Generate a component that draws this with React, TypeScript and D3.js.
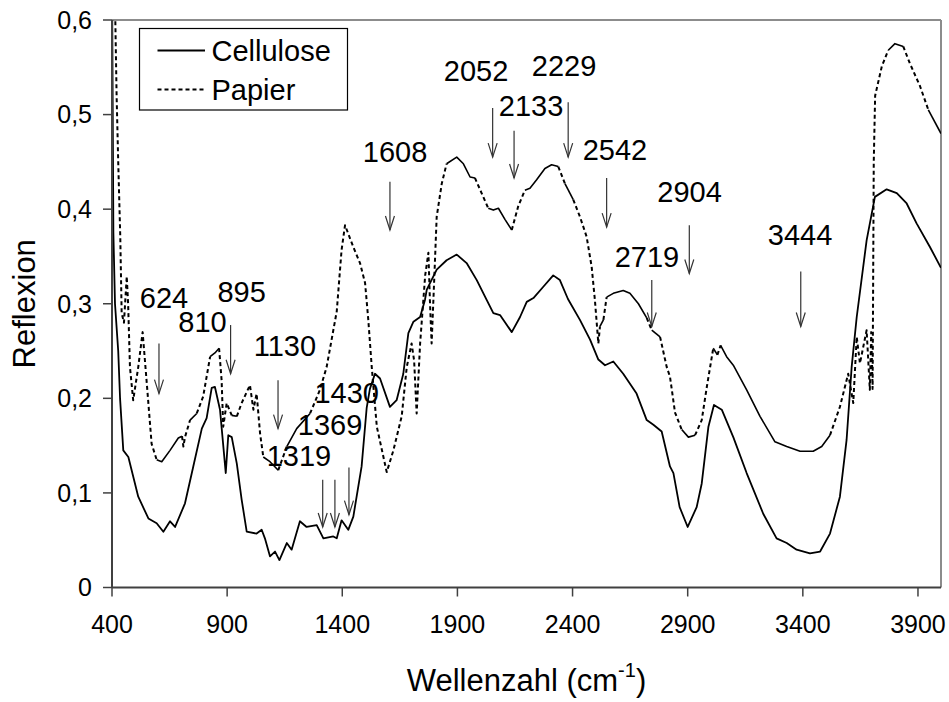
import * as d3 from "d3";

// Reflexion spectra: [wavenumber cm-1, reflexion]
const cellulose: [number, number][] = [
  [400, 0.65], [406, 0.375], [413, 0.3], [427, 0.25], [435, 0.2], [449, 0.145], [471, 0.138],
  [514, 0.096], [558, 0.073], [594, 0.068], [623, 0.059], [652, 0.07], [674, 0.064], [717, 0.089],
  [753, 0.128], [790, 0.168], [811, 0.179], [833, 0.211], [847, 0.212], [869, 0.188], [894, 0.121],
  [905, 0.161], [920, 0.159], [942, 0.131], [963, 0.093], [985, 0.059], [1028, 0.057], [1050, 0.061],
  [1064, 0.052], [1086, 0.033], [1108, 0.038], [1127, 0.029], [1159, 0.047], [1180, 0.04], [1216, 0.07],
  [1245, 0.064], [1289, 0.066], [1318, 0.052], [1361, 0.054], [1376, 0.052], [1397, 0.071], [1426, 0.061],
  [1448, 0.075], [1484, 0.128], [1506, 0.19], [1520, 0.21], [1542, 0.226], [1564, 0.221], [1607, 0.191],
  [1636, 0.198], [1665, 0.226], [1687, 0.269], [1709, 0.281], [1738, 0.286], [1759, 0.304], [1767, 0.315],
  [1810, 0.336], [1853, 0.346], [1897, 0.352], [1940, 0.343], [1984, 0.325], [2027, 0.304], [2056, 0.29],
  [2085, 0.288], [2136, 0.27], [2172, 0.286], [2201, 0.302], [2230, 0.306], [2273, 0.318], [2316, 0.33],
  [2345, 0.325], [2380, 0.305], [2432, 0.283], [2476, 0.262], [2512, 0.241], [2541, 0.235], [2577, 0.239],
  [2620, 0.226], [2678, 0.205], [2722, 0.177], [2751, 0.172], [2787, 0.165], [2823, 0.128], [2838, 0.121],
  [2865, 0.085], [2900, 0.064], [2939, 0.085], [2961, 0.11], [2990, 0.17], [3014, 0.193], [3048, 0.188],
  [3098, 0.159], [3156, 0.121], [3228, 0.078], [3286, 0.052], [3330, 0.047], [3373, 0.04], [3431, 0.036],
  [3475, 0.038], [3518, 0.057], [3561, 0.096], [3590, 0.156], [3612, 0.233], [3634, 0.286], [3677, 0.367],
  [3713, 0.413], [3764, 0.421], [3808, 0.417], [3851, 0.406], [3894, 0.385], [3952, 0.36], [4000, 0.338],
];

const papier: [number, number][] = [
  [405, 0.68], [413, 0.62], [420, 0.52], [427, 0.45], [436, 0.37], [442, 0.29], [452, 0.28], [464, 0.329],
  [470, 0.3], [478, 0.233], [492, 0.198], [514, 0.233], [533, 0.27], [551, 0.216], [572, 0.152], [594, 0.135],
  [616, 0.133], [652, 0.145], [688, 0.158], [704, 0.16], [710, 0.149], [717, 0.159], [739, 0.177], [768, 0.184],
  [796, 0.202], [826, 0.244], [847, 0.248], [865, 0.253], [876, 0.219], [883, 0.17], [898, 0.195], [920, 0.182],
  [942, 0.181], [963, 0.195], [999, 0.214], [1014, 0.188], [1028, 0.205], [1043, 0.163], [1057, 0.138],
  [1086, 0.133], [1122, 0.124], [1159, 0.149], [1202, 0.168], [1260, 0.184], [1303, 0.209], [1332, 0.233],
  [1376, 0.292], [1397, 0.357], [1412, 0.383], [1448, 0.36], [1477, 0.343], [1499, 0.322], [1513, 0.283],
  [1528, 0.233], [1550, 0.17], [1593, 0.122], [1622, 0.145], [1658, 0.181], [1680, 0.233], [1701, 0.258],
  [1712, 0.24], [1723, 0.184], [1738, 0.258], [1760, 0.33], [1774, 0.354], [1781, 0.3], [1788, 0.258],
  [1800, 0.33], [1810, 0.392], [1832, 0.427], [1853, 0.448], [1897, 0.455], [1926, 0.448], [1955, 0.434],
  [1976, 0.433], [2005, 0.417], [2034, 0.401], [2056, 0.399], [2078, 0.401], [2107, 0.389], [2136, 0.378],
  [2164, 0.403], [2193, 0.42], [2215, 0.422], [2244, 0.431], [2280, 0.443], [2309, 0.447], [2338, 0.445],
  [2367, 0.427], [2403, 0.41], [2432, 0.392], [2461, 0.371], [2483, 0.339], [2497, 0.304], [2512, 0.258],
  [2519, 0.276], [2534, 0.283], [2548, 0.307], [2577, 0.311], [2620, 0.314], [2649, 0.311], [2686, 0.3],
  [2722, 0.285], [2744, 0.272], [2780, 0.265], [2809, 0.233], [2823, 0.223], [2845, 0.185], [2874, 0.167],
  [2903, 0.159], [2932, 0.161], [2961, 0.177], [2983, 0.212], [3011, 0.253], [3029, 0.246], [3043, 0.256],
  [3069, 0.244], [3098, 0.235], [3156, 0.209], [3214, 0.181], [3279, 0.154], [3330, 0.149], [3388, 0.144],
  [3445, 0.144], [3482, 0.149], [3518, 0.161], [3561, 0.191], [3597, 0.226], [3619, 0.195], [3634, 0.265],
  [3648, 0.237], [3677, 0.272], [3691, 0.209], [3697, 0.27], [3703, 0.21], [3708, 0.45], [3714, 0.52],
  [3743, 0.551], [3771, 0.568], [3800, 0.575], [3836, 0.572], [3865, 0.554], [3909, 0.53], [3945, 0.505],
  [4000, 0.48],
];

const xTicks = [400, 900, 1400, 1900, 2400, 2900, 3400, 3900];
const yTicks = [0, 0.1, 0.2, 0.3, 0.4, 0.5, 0.6];

// band labels: text, [wavenumber, reflexion] of the label baseline centre
const bandLabels = ["624", "810", "895", "1130", "1319", "1369", "1430", "1608", "2052", "2133", "2229", "2542", "2719", "2904", "3444"];
const bandLabelAt: [number, number][] = [
  [626, 0.2955], [793, 0.27], [963, 0.302], [1151, 0.245], [1212, 0.128], [1347, 0.161], [1419, 0.195],
  [1629, 0.45], [1981, 0.535], [2220, 0.498], [2363, 0.541], [2584, 0.452], [2723, 0.339], [2908, 0.408],
  [3388, 0.362],
];
// arrows: [wavenumber, start reflexion, tip reflexion]
const bandArrows: [number, number, number][] = [
  [604, 0.258, 0.205], [915, 0.2775, 0.226], [1121, 0.219, 0.168], [1315, 0.114, 0.064],
  [1368, 0.114, 0.064], [1429, 0.127, 0.077], [1607, 0.429, 0.378], [2053, 0.507, 0.455],
  [2146, 0.483, 0.433], [2381, 0.513, 0.455], [2548, 0.433, 0.381], [2744, 0.325, 0.276],
  [2907, 0.383, 0.332], [3391, 0.334, 0.276],
];

const W = 949;
const H = 702;
const LEFT = 112;
const RIGHT = 941;
const TOP = 20;
const BOTTOM = 587.5;
const FONT = "'Liberation Sans', Arial, Helvetica, sans-serif";

export default function App() {
  const x = d3.scaleLinear().domain([400, 4000]).range([LEFT, RIGHT]);
  const y = d3.scaleLinear().domain([0, 0.6]).range([BOTTOM, TOP]);
  const line = d3
    .line<[number, number]>()
    .x((d) => x(d[0]))
    .y((d) => y(d[1]));

  // Papier: steep stretches come out dashed, flat ones look solid (like the original export)
  const runs: { pts: [number, number][]; steep: boolean }[] = [];
  for (let i = 1; i < papier.length; i++) {
    const a = papier[i - 1];
    const b = papier[i];
    const dx = Math.abs(x(b[0]) - x(a[0]));
    const dy = Math.abs(y(b[1]) - y(a[1]));
    const steep = dy > 2 * dx && Math.hypot(dx, dy) > 7;
    const last = runs[runs.length - 1];
    if (last && last.steep === steep) last.pts.push(b);
    else runs.push({ pts: [a, b], steep });
  }

  const fmt = (v: number) => (v === 0 ? "0" : d3.format(".1f")(v).replace(".", ","));

  return (
    <svg
      width={W}
      height={H}
      style={{ position: "absolute", left: 0, top: 0, background: "#fff" }}
      fontFamily={FONT}
    >
      <defs>
        <clipPath id="plot-clip">
          <rect x={LEFT} y={TOP} width={RIGHT - LEFT} height={BOTTOM - TOP} />
        </clipPath>
      </defs>

      {/* plot frame */}
      <line x1={LEFT} x2={RIGHT} y1={TOP} y2={TOP} stroke="#8c8c8c" strokeWidth={2} />
      <line x1={RIGHT} x2={RIGHT} y1={TOP} y2={BOTTOM} stroke="#8c8c8c" strokeWidth={2} />

      <g clipPath="url(#plot-clip)" fill="none" strokeLinejoin="round">
        <path d={line(cellulose) ?? ""} stroke="#000" strokeWidth={1.8} />
        {runs.map((r, i) => (
          <path
            key={i}
            d={line(r.pts) ?? ""}
            stroke="#000"
            strokeWidth={r.steep ? 2 : 1.6}
            strokeDasharray={r.steep ? "4,3" : undefined}
          />
        ))}
      </g>

      {/* axes */}
      <line x1={LEFT} x2={LEFT} y1={TOP} y2={BOTTOM} stroke="#404040" strokeWidth={2} />
      <line x1={LEFT} x2={RIGHT} y1={BOTTOM} y2={BOTTOM} stroke="#404040" strokeWidth={2} />
      {yTicks.map((t) => (
        <g key={t}>
          <line x1={LEFT - 9} x2={LEFT} y1={y(t)} y2={y(t)} stroke="#404040" strokeWidth={1.5} />
          <text x={LEFT - 20} y={y(t)} dy="0.35em" textAnchor="end" fontSize={25}>
            {fmt(t)}
          </text>
        </g>
      ))}
      {xTicks.map((t) => (
        <g key={t}>
          <line x1={x(t)} x2={x(t)} y1={BOTTOM} y2={BOTTOM + 9} stroke="#404040" strokeWidth={1.5} />
          <text x={x(t)} y={633} textAnchor="middle" fontSize={25}>
            {t}
          </text>
        </g>
      ))}

      {/* axis titles */}
      <text x={(LEFT + RIGHT) / 2} y={691} textAnchor="middle" fontSize={31}>
        Wellenzahl (cm
        <tspan fontSize={20} dy={-14}>
          -1
        </tspan>
        <tspan dy={14}>)</tspan>
      </text>
      <text
        transform={`translate(35, ${(TOP + BOTTOM) / 2}) rotate(-90)`}
        textAnchor="middle"
        fontSize={31}
      >
        Reflexion
      </text>

      {/* band arrows and labels */}
      {bandArrows.map(([wn, from, tip], i) => {
        const ax = x(wn);
        const ty = y(tip);
        return (
          <g key={i} stroke="#333" strokeWidth={1.2} fill="none">
            <line x1={ax} x2={ax} y1={y(from)} y2={ty} />
            <path d={`M${ax - 4.5},${ty - 14}L${ax},${ty}L${ax + 4.5},${ty - 14}`} />
          </g>
        );
      })}
      {bandLabels.map((lab, i) => (
        <text
          key={lab}
          x={x(bandLabelAt[i][0])}
          y={y(bandLabelAt[i][1])}
          textAnchor="middle"
          fontSize={29}
        >
          {lab}
        </text>
      ))}

      {/* legend */}
      <rect x={139.5} y={28.5} width={208} height={81.5} fill="#fff" stroke="#000" strokeWidth={1.2} />
      <line x1={157.5} x2={205} y1={50.5} y2={50.5} stroke="#000" strokeWidth={1.8} />
      <text x={211.5} y={50.5} dy="0.35em" fontSize={29}>
        Cellulose
      </text>
      <line x1={157.5} x2={205} y1={89.5} y2={89.5} stroke="#000" strokeWidth={2} strokeDasharray="4,3" />
      <text x={211.5} y={89.5} dy="0.35em" fontSize={29}>
        Papier
      </text>
    </svg>
  );
}
